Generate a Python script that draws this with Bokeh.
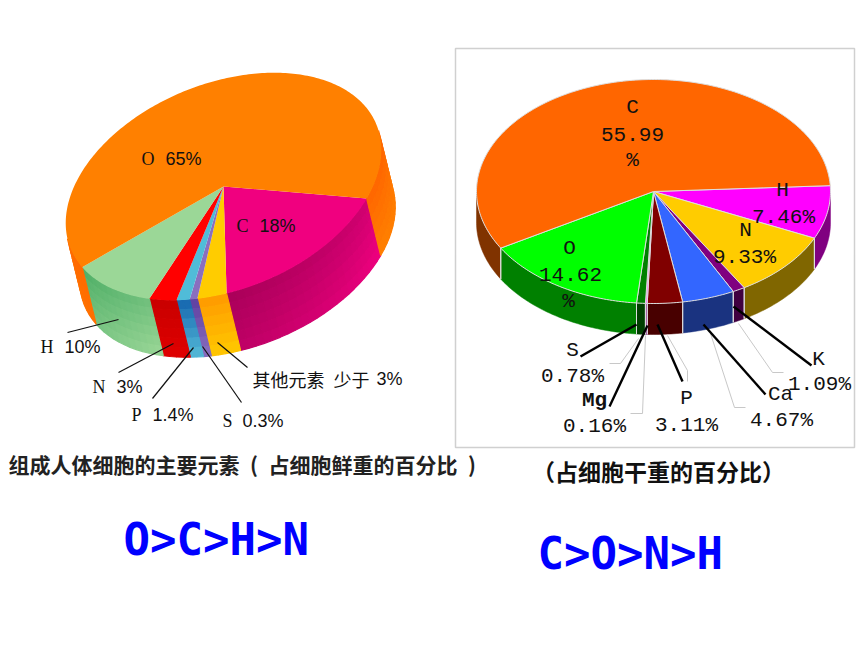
import math
from bokeh.plotting import figure
from bokeh.models import Range1d
from bokeh.core.properties import value
from bokeh.embed import file_html
from bokeh.resources import INLINE

# ---- data -----------------------------------------------------------------
# fresh weight pie, clockwise from the O/C edge; S is drawn wider than its 0.3 label
left_elements = ["C", "其他", "S", "P", "N", "H", "O"]
left_shares = [18, 3, 0.8, 1.4, 3, 10, 65]
# dry weight pie, clockwise from the C/H edge
right_elements = ["H", "N", "K", "Ca", "P", "Mg", "S", "O", "C"]
right_values = [7.46, 9.33, 1.09, 4.67, 3.11, 0.16, 0.78, 14.62, 55.99]
left_title = "组成人体细胞的主要元素\u2002(\u2002占细胞鲜重的百分比\u2002)"
right_title = "（占细胞干重的百分比）"
left_order = "O>C>H>N"
right_order = "C>O>N>H"

# ---- styles ----------------------------------------------------------------
left_top = ["#F0007F", "#FFCC00", "#8A6FBF", "#50BCD8", "#FF0000", "#9BD797", "#FF8000"]
# side corners: (start top, start bottom, end top, end bottom)
left_side = [
    ("#D00070", "#F0007F", "#A80058", "#C00066"),
    ("#FF9900", "#FFC800", "#FF9900", "#FFC800"),
    ("#5E3FA0", "#8A6FBF", "#5E3FA0", "#8A6FBF"),
    ("#1565AE", "#55BBD8", "#1565AE", "#55BBD8"),
    ("#C80000", "#E00000", "#C80000", "#E00000"),
    ("#6FBF7C", "#9BD797", "#4FAE66", "#78C482"),
    ("#FF6A00", "#FF7000", "#FF6600", "#FF8000"),
]
right_top = ["#FF00FF", "#FFCC00", "#800080", "#3366FF", "#800000", "#FF66FF", "#008000", "#00FF00", "#FF6600"]
right_side = ["#800080", "#806600", "#400040", "#1A3380", "#480000", "#800080", "#004000", "#008000", "#803300"]
EDGE = "#DDDDDD"
SANS, SERIF, MONO, CJK = "Liberation Sans", "Liberation Serif", "Liberation Mono", "Noto Sans CJK SC"

p = figure(width=860, height=645, output_backend="svg", toolbar_location=None,
           x_range=Range1d(0, 860), y_range=Range1d(645, 0), min_border=0,
           background_fill_color="white", border_fill_color="white")
p.axis.visible = False
p.grid.visible = False
p.outline_line_color = None


def label(x, base, txt, font, size, color="#111111", align="left", style="normal"):
    # y is given as the text's baseline
    p.text([x], [base - 0.36 * size], text=[txt], text_font=value(font), text_font_size=f"{size}px",
           text_color=color, text_align=align, text_baseline="middle", text_font_style=style)


def hex2rgb(c):
    return [int(c[i:i + 2], 16) for i in (1, 3, 5)]


def mix(c1, c2, f):
    a, b = hex2rgb(c1), hex2rgb(c2)
    return "#%02X%02X%02X" % tuple(round(x + (y - x) * f) for x, y in zip(a, b))


class Pie:
    def __init__(self, cx, cy, a, b, rot, dx, dy, start):
        self.cx, self.cy, self.a, self.b, self.dx, self.dy, self.start = cx, cy, a, b, dx, dy, start
        r = math.radians(rot)
        self.e1, self.e2 = (math.cos(r), -math.sin(r)), (math.sin(r), math.cos(r))

    def pt(self, deg, off=0.0):
        t = math.radians(deg)
        u, v = self.a * math.cos(t), self.b * math.sin(t)
        return (self.cx + u * self.e1[0] + v * self.e2[0] + off * self.dx,
                self.cy + u * self.e1[1] + v * self.e2[1] + off * self.dy)

    def front(self, deg):
        t = math.radians(deg)
        nx = self.e1[0] * math.cos(t) / self.a + self.e2[0] * math.sin(t) / self.b
        ny = self.e1[1] * math.cos(t) / self.a + self.e2[1] * math.sin(t) / self.b
        return nx * self.dx + ny * self.dy > 0

    def bounds(self, shares):
        k, out, cur = 360 / sum(shares), [], self.start
        for s in shares:
            out.append((cur, cur + s * k))
            cur += s * k
        return out


def steps(a, b, d):
    n = max(1, int(math.ceil((b - a) / d)))
    return [a + (b - a) * i / n for i in range(n + 1)]


def draw_tops(pie, bounds, colors, line, lw):
    xs, ys = [], []
    for a, b in bounds:
        pts = [(pie.cx, pie.cy)] + [pie.pt(t) for t in steps(a, b, 1.0)]
        xs.append([q[0] for q in pts])
        ys.append([q[1] for q in pts])
    p.patches(xs, ys, fill_color=colors, line_color=line, line_width=lw)


# ---- left pie -----------------------------------------------------------------
pl = Pie(223, 186, 165, 103, 22, 14, 57, 39)
lb = pl.bounds(left_shares)
xs, ys, cs = [], [], []
ROWS = 6
for (a, b), corners in zip(lb, left_side):
    ts = steps(a, b, 3.0)
    for i in range(len(ts) - 1):
        t0, t1 = ts[i], ts[i + 1]
        if not (pl.front(t0) or pl.front(t1)):
            continue
        f = (i + 0.5) / (len(ts) - 1)
        for r in range(ROWS):
            d0, d1 = r / ROWS, (r + 1) / ROWS
            q = [pl.pt(t0, d0), pl.pt(t1, d0), pl.pt(t1, d1), pl.pt(t0, d1)]
            xs.append([z[0] for z in q])
            ys.append([z[1] for z in q])
            g = (r + 0.5) / ROWS
            cs.append(mix(mix(corners[0], corners[1], g), mix(corners[2], corners[3], g), f))
p.patches(xs, ys, fill_color=cs, line_color=cs, line_width=1.2)
draw_tops(pl, lb, left_top, None, 0)

left_leaders = [((67, 332), (118, 319)), ((118, 372), (173, 343)), ((152, 398), (193, 347)),
                ((241, 402), (202, 346)), ((247, 367), (217, 342))]
for s, e in left_leaders:
    p.line([s[0], e[0]], [s[1], e[1]], line_color="#111111", line_width=1.2)

left_labels = [("O", 141, "65%", 165, 165), ("C", 236, "18%", 259, 232), ("H", 40, "10%", 64, 353),
               ("N", 92, "3%", 116, 393), ("P", 131, "1.4%", 152, 421), ("S", 222, "0.3%", 242, 427)]
for letter, lx, num, nx, by in left_labels:
    label(lx, by, letter, SERIF, 18)
    label(nx, by, num, SANS, 18)
label(252, 385, "其他元素", CJK, 18)
label(333, 385, "少于", CJK, 18)
label(376, 385, "3%", SANS, 18)

# ---- right pie ----------------------------------------------------------------
p.quad(left=[455], right=[854], top=[48], bottom=[447], fill_color="white",
       line_color="#D0D0D0", line_width=1.5)
pr = Pie(653, 191, 177, 112, 0, 0, 31, -3)
rb = pr.bounds(right_values)
xs, ys, cs = [], [], []
for (a, b), col in zip(rb, right_side):
    ts = [t for t in steps(a, b, 1.0) if pr.front(t)]
    if len(ts) < 2:
        continue
    q = [pr.pt(t) for t in ts] + [pr.pt(t, 1) for t in reversed(ts)]
    xs.append([z[0] for z in q])
    ys.append([z[1] for z in q])
    cs.append(col)
p.patches(xs, ys, fill_color=cs, line_color=cs, line_width=0.5)
for a, b in rb:
    for t in (a, b):
        if pr.front(t):
            s, e = pr.pt(t), pr.pt(t, 1)
            p.line([s[0], e[0]], [s[1], e[1]], line_color=EDGE, line_width=1)
draw_tops(pr, rb, right_top, EDGE, 1)

gray_leaders = [[(609, 363), (620, 363), (638, 338)], [(630, 413), (642, 413), (645, 335)],
                [(687, 381), (687, 370), (667, 335)], [(745, 407), (734, 407), (710, 333)],
                [(783, 372), (772, 372), (738, 323)]]
for g in gray_leaders:
    p.line([z[0] for z in g], [z[1] for z in g], line_color="#C8C8C8", line_width=1)
black_leaders = [((580, 356), (636, 324)), ((609, 406), (647, 325)), ((682, 381), (657, 324)),
                 ((765, 394), (703, 324)), ((811, 365), (733, 306))]
for s, e in black_leaders:
    p.line([s[0], e[0]], [s[1], e[1]], line_color="black", line_width=2.4)

right_labels = [("C", 632, 115), ("55.99", 632, 142), ("%", 632, 168),
                ("H", 782, 198), ("7.46%", 783, 225), ("N", 745, 238), ("9.33%", 744, 265),
                ("O", 569, 256), ("14.62", 570, 282), ("%", 568, 309),
                ("S", 572, 358), ("0.78%", 572, 384), ("0.16%", 594, 434),
                ("P", 686, 406), ("3.11%", 686, 433), ("Ca", 780, 402), ("4.67%", 781, 428),
                ("K", 818, 367), ("1.09%", 819, 392)]
for txt, x, y in right_labels:
    label(x, y, txt, MONO, 21, align="center")
label(594, 408, "Mg", MONO, 21, align="center", style="bold")

# ---- captions -----------------------------------------------------------------
label(8, 471, left_title, CJK, 21, color="#222222", style="bold")
label(658, 479, right_title, CJK, 23, align="center", style="bold")
label(123, 555, left_order, "DejaVu Sans Mono", 44, color="#0000FF", style="bold")
label(537, 569, right_order, "DejaVu Sans Mono", 44, color="#0000FF", style="bold")

open("out.html", "w").write(file_html(p, INLINE))
